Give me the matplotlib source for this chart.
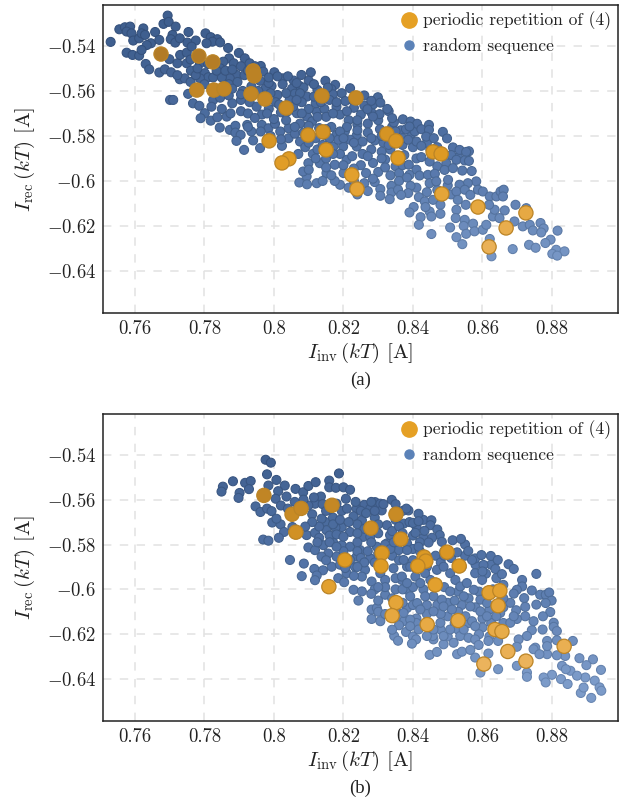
import numpy as np
import matplotlib
matplotlib.use('Agg')
import matplotlib.pyplot as plt
from matplotlib.colors import LinearSegmentedColormap
from matplotlib.lines import Line2D

plt.rcParams['mathtext.fontset'] = 'cm'
plt.rcParams['font.family'] = ['cmr10', 'DejaVu Serif']
plt.rcParams['axes.formatter.use_mathtext'] = True

x_ticks = [0.76, 0.78, 0.8, 0.82, 0.84, 0.86, 0.88]
x_tick_labels = ['0.76', '0.78', '0.8', '0.82', '0.84', '0.86', '0.88']
y_ticks = [-0.54, -0.56, -0.58, -0.6, -0.62, -0.64]
y_tick_labels = ['$-0.54$', '$-0.56$', '$-0.58$', '$-0.6$', '$-0.62$', '$-0.64$']

# panel (a), periodic repetition
a_periodic = np.array([
    (.7675, -.5436), (.7784, -.5445), (.7824, -.5471), (.7940, -.5511), (.7943, -.5533), (.7778, -.5596),
    (.7827, -.5596), (.7856, -.5591), (.7934, -.5613), (.7974, -.5636), (.8035, -.5676), (.8138, -.5622),
    (.8236, -.5631), (.8098, -.5796), (.8141, -.5782), (.8150, -.5862), (.7986, -.5822), (.8043, -.5902),
    (.8023, -.5920), (.8224, -.5973), (.8239, -.6036), (.8325, -.5791), (.8351, -.5822), (.8357, -.5898),
    (.8458, -.5871), (.8481, -.5880), (.8483, -.6058), (.8587, -.6116), (.8725, -.6142), (.8668, -.6209),
    (.8619, -.6293),
])

# panel (a), random sequence: upper left part
a_random_left = np.array([
    (.7530, -.5382), (.7555, -.5326), (.7571, -.5317), (.7586, -.5314), (.7576, -.5336), (.7590, -.5344),
    (.7595, -.5376), (.7612, -.5366), (.7624, -.5322), (.7619, -.5344), (.7629, -.5351), (.7658, -.5338),
    (.7646, -.5388), (.7634, -.5396), (.7670, -.5373), (.7576, -.5430), (.7593, -.5440), (.7612, -.5443),
    (.7619, -.5418), (.7694, -.5265), (.7682, -.5302), (.7697, -.5293), (.7717, -.5314), (.7708, -.5351),
    (.7703, -.5370), (.7716, -.5385), (.7729, -.5366), (.7754, -.5338), (.7751, -.5385), (.7775, -.5376),
    (.7803, -.5344), (.7818, -.5361), (.7837, -.5370), (.7823, -.5381), (.7845, -.5384), (.7806, -.5388),
    (.7868, -.5409), (.7899, -.5431), (.7871, -.5455), (.7884, -.5477), (.7916, -.5455), (.7930, -.5477),
    (.7962, -.5489), (.8001, -.5517), (.7969, -.5514), (.8079, -.5529), (.8106, -.5517), (.8100, -.5554),
    (.8148, -.5555), (.8176, -.5573), (.8219, -.5588), (.8057, -.5554), (.8074, -.5578), (.8025, -.5544),
    (.7993, -.5578), (.7631, -.5480), (.7641, -.5504), (.7670, -.5518), (.7686, -.5504), (.7704, -.5517),
    (.7699, -.5459), (.7722, -.5477), (.7730, -.5440), (.7749, -.5430), (.7763, -.5403), (.7749, -.5477),
    (.7761, -.5510), (.7787, -.5477), (.7801, -.5521), (.7811, -.5539), (.7787, -.5544), (.7854, -.5470),
    (.7845, -.5499), (.7892, -.5529), (.7873, -.5544), (.7701, -.5640), (.7710, -.5640), (.7753, -.5613),
    (.7767, -.5655), (.7785, -.5666), (.7825, -.5640), (.7801, -.5699), (.7789, -.5721), (.7818, -.5732),
    (.7837, -.5717), (.7864, -.5714), (.7844, -.5763), (.7873, -.5773), (.7889, -.5755), (.7923, -.5751),
    (.7889, -.5785), (.7904, -.5795), (.7892, -.5822), (.7914, -.5862), (.7940, -.5820), (.7960, -.5854),
    (.7729, -.5548), (.7743, -.5544), (.7722, -.5530), (.7760, -.5560), (.7775, -.5530), (.7800, -.5570),
    (.7825, -.5540), (.7850, -.5540), (.7870, -.5570), (.7895, -.5560), (.7915, -.5530), (.7935, -.5580),
    (.7960, -.5555), (.7975, -.5590), (.7845, -.5630), (.7870, -.5620), (.7905, -.5640), (.7880, -.5655),
    (.7910, -.5600), (.7930, -.5650), (.7950, -.5670), (.7965, -.5620), (.7905, -.5690), (.7925, -.5700),
])

# panel (a), random sequence: middle body
a_random_mid = np.array([
    (.7965, -.5751), (.7984, -.5766), (.7962, -.5780), (.8003, -.5746), (.8018, -.5780), (.8042, -.5766),
    (.8042, -.5810), (.8023, -.5844), (.8066, -.5699), (.8095, -.5714), (.8075, -.5825), (.8112, -.5880),
    (.8123, -.5692), (.8180, -.5795), (.8204, -.5780), (.8238, -.5798), (.8099, -.5921), (.8073, -.6007),
    (.8094, -.5980), (.8123, -.6010), (.8084, -.5958), (.8132, -.5921), (.8151, -.5965), (.8175, -.5928),
    (.8190, -.6017), (.8209, -.5906), (.8238, -.5847), (.8199, -.5847), (.8171, -.5847), (.8185, -.5817),
    (.8219, -.5817), (.7985, -.5565), (.8025, -.5570), (.8052, -.5590), (.8085, -.5585), (.8125, -.5595),
    (.8165, -.5592), (.8010, -.5618), (.8060, -.5612), (.8095, -.5625), (.8170, -.5615), (.8195, -.5610),
    (.8225, -.5640), (.8005, -.5650), (.8045, -.5640), (.8080, -.5650), (.8120, -.5655), (.8160, -.5640),
    (.8205, -.5645), (.8260, -.5620), (.7985, -.5680), (.8020, -.5695), (.8055, -.5670), (.8100, -.5680),
    (.8145, -.5680), (.8180, -.5670), (.8230, -.5675), (.8260, -.5665), (.7965, -.5705), (.8000, -.5725),
    (.8035, -.5730), (.8075, -.5745), (.8110, -.5735), (.8150, -.5715), (.8190, -.5705), (.8215, -.5730),
    (.8250, -.5705), (.8280, -.5695), (.8130, -.5765), (.8165, -.5760), (.8240, -.5750), (.8270, -.5745),
    (.8300, -.5730), (.8100, -.5755), (.8060, -.5790), (.8120, -.5810), (.8210, -.5760), (.8270, -.5785),
    (.8305, -.5770), (.8255, -.5825), (.8290, -.5820), (.8315, -.5830), (.8340, -.5760), (.8365, -.5775),
    (.8280, -.5860), (.8310, -.5870), (.8335, -.5860), (.8370, -.5840), (.8255, -.5880), (.8225, -.5890),
    (.8190, -.5880), (.8250, -.5930), (.8285, -.5920), (.8320, -.5905), (.8350, -.5935), (.8375, -.5885),
    (.8230, -.5945), (.8265, -.5965), (.8300, -.5960), (.8335, -.5975), (.8360, -.5965), (.8200, -.5965),
    (.8260, -.6010), (.8290, -.6005), (.8215, -.6030), (.8175, -.6000), (.8240, -.6060), (.8270, -.6045),
    (.8125, -.5860), (.8150, -.5900), (.8190, -.5780), (.8150, -.5770), (.8090, -.5850), (.8070, -.5880),
    (.8140, -.5620), (.8210, -.5690), (.8330, -.5690), (.8345, -.5740), (.8395, -.5790), (.8370, -.5810),
])

# panel (a), random sequence: second pass over the dense band
a_random_dense = np.array([
    (.7760, -.5460), (.7780, -.5500), (.7810, -.5480), (.7835, -.5510), (.7860, -.5510), (.7880, -.5505),
    (.7905, -.5490), (.7925, -.5510), (.7945, -.5490), (.7985, -.5540), (.8010, -.5535), (.8040, -.5535),
    (.8065, -.5565), (.8115, -.5570), (.8155, -.5585), (.7850, -.5600), (.7880, -.5590), (.7905, -.5615),
    (.7955, -.5600), (.7990, -.5610), (.8035, -.5610), (.8075, -.5610), (.8115, -.5625), (.8135, -.5650),
    (.8180, -.5650), (.7820, -.5670), (.7850, -.5680), (.7875, -.5700), (.7945, -.5720), (.7980, -.5700),
    (.8015, -.5660), (.8065, -.5640), (.8040, -.5690), (.8080, -.5700), (.8125, -.5715), (.8170, -.5700),
    (.8240, -.5630), (.8285, -.5660), (.8240, -.5730), (.7935, -.5780), (.7925, -.5760), (.7990, -.5800),
    (.8020, -.5815), (.8060, -.5760), (.8085, -.5785), (.8145, -.5795), (.8200, -.5810), (.8160, -.5810),
    (.8240, -.5775), (.8280, -.5810), (.8310, -.5800), (.8350, -.5780), (.8380, -.5770), (.8405, -.5780),
    (.8400, -.5850), (.8350, -.5890), (.8330, -.5840), (.8310, -.5900), (.8270, -.5890), (.8230, -.5830),
    (.8100, -.5830), (.8140, -.5840), (.8170, -.5880), (.8120, -.5900), (.8150, -.5940), (.8200, -.5930),
    (.8100, -.5950), (.8140, -.6000), (.8165, -.5975), (.8095, -.6015), (.8230, -.6000), (.8285, -.5990),
    (.8320, -.5940), (.8370, -.5930), (.8410, -.5900), (.8450, -.5860), (.8470, -.5850), (.8440, -.5830),
    (.8480, -.5880), (.8530, -.5895), (.8470, -.5935), (.8410, -.5950), (.8360, -.6000), (.8410, -.6030),
    (.8440, -.6050), (.8470, -.6040), (.8500, -.6020), (.8510, -.6060),
])

# panel (a), random sequence: right part
a_random_right = np.array([
    (.8299, -.5628), (.8280, -.5644), (.8306, -.5652), (.8269, -.5681), (.8326, -.5680), (.8304, -.5703),
    (.8285, -.5714), (.8340, -.5721), (.8371, -.5726), (.8393, -.5736), (.8412, -.5746), (.8446, -.5751),
    (.8424, -.5770), (.8390, -.5758), (.8446, -.5773), (.8486, -.5782), (.8438, -.5803), (.8460, -.5810),
    (.8498, -.5811), (.8410, -.5825), (.8386, -.5817), (.8424, -.5844), (.8515, -.5851), (.8534, -.5862),
    (.8561, -.5868), (.8553, -.5871), (.8510, -.5885), (.8525, -.5906), (.8549, -.5909), (.8561, -.5911),
    (.8496, -.5921), (.8448, -.5914), (.8424, -.5894), (.8388, -.5928), (.8390, -.5973), (.8383, -.5985),
    (.8419, -.5976), (.8443, -.5973), (.8463, -.5968), (.8491, -.5951), (.8515, -.5943), (.8542, -.5954),
    (.8569, -.5956), (.8501, -.5995), (.8448, -.6010), (.8467, -.6002), (.8393, -.6022), (.8338, -.6022),
    (.8306, -.6036), (.8338, -.6051), (.8357, -.6039), (.8386, -.6054), (.8366, -.6062), (.8333, -.6081),
    (.8306, -.6066), (.8417, -.6072), (.8434, -.6091), (.8458, -.6084), (.8479, -.6106), (.8448, -.6136),
    (.8436, -.6116), (.8402, -.6116), (.8390, -.6140), (.8422, -.6161), (.8453, -.6158), (.8479, -.6146),
    (.8417, -.6195), (.8453, -.6236), (.8525, -.6128), (.8523, -.6165), (.8549, -.6173), (.8507, -.6207),
    (.8546, -.6200), (.8525, -.6250), (.8553, -.6235), (.8542, -.6281), (.8573, -.6190), (.8577, -.6224),
    (.8601, -.6217), (.8611, -.6195), (.8630, -.6158), (.8635, -.6128), (.8664, -.6131), (.8649, -.6165),
    (.8695, -.6106), (.8726, -.6121), (.8692, -.6180), (.8716, -.6202), (.8736, -.6195), (.8745, -.6220),
    (.8767, -.6187), (.8776, -.6211), (.8769, -.6229), (.8816, -.6221), (.8796, -.6261), (.8781, -.6276),
    (.8734, -.6284), (.8753, -.6297), (.8687, -.6303), (.8626, -.6335), (.8621, -.6258), (.8812, -.6306),
    (.8836, -.6313), (.8801, -.6324), (.8815, -.6332), (.8582, -.6002), (.8558, -.6010), (.8534, -.6017),
    (.8525, -.6047), (.8549, -.6039), (.8529, -.6084), (.8552, -.6106), (.8565, -.6062), (.8587, -.6039),
    (.8601, -.6047), (.8621, -.6069), (.8619, -.6106), (.8640, -.6069), (.8652, -.6047), (.8661, -.6039),
    (.8659, -.6069),
])

# panel (b), periodic repetition
b_periodic = np.array([
    (.7971, -.5581), (.8052, -.5665), (.8078, -.5639), (.8063, -.5745), (.8167, -.5625), (.8351, -.5665),
    (.8279, -.5727), (.8365, -.5776), (.8311, -.5838), (.8308, -.5896), (.8204, -.5869), (.8158, -.5988),
    (.8351, -.6059), (.8340, -.6117), (.8498, -.5834), (.8432, -.5856), (.8437, -.5874), (.8414, -.5896),
    (.8533, -.5896), (.8464, -.5980), (.8619, -.6015), (.8650, -.6006), (.8645, -.6073), (.8530, -.6139),
    (.8441, -.6157), (.8636, -.6179), (.8656, -.6188), (.8673, -.6277), (.8835, -.6254), (.8725, -.6320),
    (.8604, -.6333),
])

# panel (b), random sequence: left part
b_random_left = np.array([
    (.7976, -.5422), (.7991, -.5435), (.7980, -.5487), (.8187, -.5483), (.7853, -.5542), (.7849, -.5564),
    (.7882, -.5518), (.7917, -.5525), (.7933, -.5517), (.7928, -.5553), (.7901, -.5570), (.7898, -.5592),
    (.7947, -.5630), (.7961, -.5655), (.7980, -.5640), (.7993, -.5651), (.7984, -.5537), (.8007, -.5512),
    (.8031, -.5537), (.8012, -.5562), (.8005, -.5596), (.8020, -.5626), (.8036, -.5586), (.8062, -.5552),
    (.8084, -.5567), (.8099, -.5539), (.8120, -.5522), (.8159, -.5515), (.8159, -.5545), (.8178, -.5547),
    (.8200, -.5545), (.8219, -.5556), (.8207, -.5596), (.8135, -.5586), (.8118, -.5618), (.8099, -.5626),
    (.7995, -.5702), (.8019, -.5710), (.8007, -.5685), (.8029, -.5744), (.8014, -.5770), (.7969, -.5778),
    (.7984, -.5783), (.8053, -.5722), (.8046, -.5869), (.8086, -.5885), (.8080, -.5941), (.8116, -.5909),
    (.8141, -.5915), (.8123, -.5938), (.8118, -.5959), (.8099, -.5813), (.8118, -.5825), (.8094, -.5758),
    (.8118, -.5748), (.8147, -.5699), (.8137, -.5685), (.8151, -.5736), (.8142, -.5803), (.8156, -.5840),
    (.8166, -.5899), (.8185, -.5950), (.8202, -.5968), (.8229, -.6002), (.8243, -.6050), (.8253, -.6009),
    (.8281, -.6090), (.8296, -.6083), (.8281, -.6132), (.8306, -.6142), (.8346, -.6208), (.8357, -.6229),
    (.8339, -.5601), (.8291, -.5611), (.8306, -.5618), (.8260, -.5623), (.8238, -.5640), (.8277, -.5640),
    (.8310, -.5648), (.8229, -.5674), (.8253, -.5692), (.8195, -.5650), (.8195, -.5722), (.8177, -.5725),
    (.8219, -.5744), (.8195, -.5803), (.8248, -.5825), (.8257, -.5766), (.8219, -.5810), (.8238, -.5854),
    (.8262, -.5913), (.8281, -.5965), (.8306, -.5928), (.8344, -.5906), (.8383, -.5899), (.8359, -.5825),
    (.8325, -.5795), (.8383, -.5795), (.8387, -.5648), (.8373, -.5707), (.8325, -.5714), (.8277, -.5862),
    (.8320, -.5958), (.8368, -.5958), (.8320, -.6024), (.8383, -.6002), (.8373, -.6142), (.8383, -.6083),
    (.8277, -.5766), (.8296, -.5810), (.8334, -.5758), (.8233, -.5899), (.8253, -.5943), (.8209, -.5928),
    (.8180, -.5854), (.8137, -.5854), (.8219, -.5869), (.8161, -.5643), (.8180, -.5618), (.8085, -.5600),
    (.8110, -.5665), (.8170, -.5680), (.8130, -.5770), (.8170, -.5790), (.8240, -.5710), (.8290, -.5680),
    (.8350, -.5690), (.8300, -.5750), (.8240, -.5790), (.8270, -.5830), (.8340, -.5850), (.8290, -.5880),
    (.8190, -.5890), (.8230, -.5940), (.8290, -.6000), (.8350, -.6000), (.8300, -.6050), (.8350, -.6090),
])

# panel (b), random sequence: second pass over the dense band
b_random_dense = np.array([
    (.8040, -.5640), (.8060, -.5610), (.8080, -.5640), (.8115, -.5590), (.8140, -.5620), (.8150, -.5650),
    (.8130, -.5720), (.8110, -.5700), (.8090, -.5720), (.8170, -.5710), (.8160, -.5760), (.8180, -.5755),
    (.8200, -.5765), (.8190, -.5690), (.8215, -.5700), (.8210, -.5640), (.8235, -.5610), (.8250, -.5650),
    (.8280, -.5610), (.8265, -.5660), (.8290, -.5650), (.8315, -.5620), (.8350, -.5620), (.8370, -.5650),
    (.8340, -.5740), (.8360, -.5720), (.8390, -.5700), (.8410, -.5720), (.8430, -.5690), (.8300, -.5710),
    (.8260, -.5730), (.8240, -.5750), (.8280, -.5790), (.8240, -.5830), (.8200, -.5830), (.8160, -.5790),
    (.8125, -.5790), (.8150, -.5870), (.8180, -.5810), (.8205, -.5905), (.8250, -.5860), (.8260, -.5880),
    (.8240, -.5900), (.8300, -.5840), (.8320, -.5800), (.8335, -.5820), (.8345, -.5790), (.8370, -.5750),
    (.8400, -.5760), (.8430, -.5770), (.8420, -.5790), (.8400, -.5820), (.8420, -.5830), (.8360, -.5870),
    (.8400, -.5870), (.8410, -.5910), (.8440, -.5900), (.8465, -.5850), (.8490, -.5830), (.8510, -.5860),
    (.8480, -.5880), (.8550, -.5850), (.8550, -.5800), (.8580, -.5890), (.8625, -.5890), (.8610, -.5930),
    (.8640, -.5950), (.8660, -.5980), (.8590, -.6010), (.8560, -.6040), (.8610, -.6030), (.8580, -.6080),
    (.8620, -.6090), (.8530, -.6010), (.8490, -.5990), (.8460, -.5980), (.8430, -.6000), (.8400, -.5990),
    (.8370, -.6000), (.8350, -.5950), (.8320, -.5990), (.8280, -.6020), (.8340, -.6040), (.8370, -.6060),
    (.8400, -.6070), (.8440, -.6070), (.8470, -.6070), (.8500, -.6060), (.8540, -.6070), (.8530, -.6100),
    (.8500, -.6120), (.8480, -.6110), (.8440, -.6110), (.8410, -.6130), (.8350, -.6130), (.8360, -.6160),
    (.8380, -.6190), (.8410, -.6150), (.8440, -.6150), (.8520, -.6150), (.8560, -.6150), (.8600, -.6130),
    (.8600, -.6170), (.8620, -.6210), (.8590, -.6200), (.8530, -.6180), (.8480, -.6180), (.8500, -.6210),
    (.8300, -.6100), (.8320, -.6110), (.8300, -.5990), (.8340, -.6180), (.8400, -.6210), (.8660, -.6080),
    (.8680, -.6060), (.8660, -.6150), (.8625, -.6150), (.8640, -.6190),
])

# panel (b), random sequence: right part
b_random_right = np.array([
    (.8381, -.5640), (.8416, -.5663), (.8400, -.5704), (.8416, -.5696), (.8453, -.5692), (.8450, -.5714),
    (.8433, -.5739), (.8470, -.5733), (.8407, -.5748), (.8477, -.5758), (.8455, -.5770), (.8445, -.5791),
    (.8483, -.5788), (.8514, -.5781), (.8538, -.5775), (.8416, -.5810), (.8383, -.5825), (.8559, -.5829),
    (.8527, -.5835), (.8579, -.5862), (.8597, -.5847), (.8624, -.5851), (.8644, -.5869), (.8603, -.5891),
    (.8570, -.5869), (.8637, -.5909), (.8675, -.5888), (.8690, -.5909), (.8656, -.5932), (.8755, -.5931),
    (.8714, -.5958), (.8714, -.5987), (.8699, -.6002), (.8690, -.6019), (.8742, -.6005), (.8720, -.6039),
    (.8766, -.6024), (.8782, -.6024), (.8792, -.6014), (.8755, -.6068), (.8799, -.6050), (.8782, -.6061),
    (.8723, -.6078), (.8795, -.6101), (.8774, -.6120), (.8697, -.6093), (.8723, -.6120), (.8699, -.6132),
    (.8747, -.6142), (.8742, -.6182), (.8805, -.6149), (.8805, -.6167), (.8814, -.6186), (.8773, -.6179),
    (.8728, -.6208), (.8704, -.6223), (.8680, -.6149), (.8651, -.6105), (.8690, -.6120), (.8786, -.6230),
    (.8814, -.6227), (.8860, -.6230), (.8838, -.6297), (.8814, -.6294), (.8786, -.6289), (.8752, -.6260),
    (.8786, -.6253), (.8829, -.6341), (.8853, -.6363), (.8879, -.6307), (.8918, -.6312), (.8899, -.6338),
    (.8941, -.6359), (.8923, -.6407), (.8937, -.6437), (.8942, -.6452), (.8913, -.6484), (.8883, -.6462),
    (.8891, -.6438), (.8896, -.6393), (.8872, -.6385), (.8840, -.6356), (.8826, -.6400), (.8845, -.6422),
    (.8800, -.6381), (.8776, -.6393), (.8782, -.6415), (.8728, -.6371), (.8728, -.6390), (.8699, -.6341),
    (.8645, -.6356), (.8594, -.6371), (.8579, -.6304), (.8617, -.6286), (.8527, -.6289), (.8541, -.6278),
    (.8448, -.6292), (.8469, -.6279), (.8488, -.6245), (.8459, -.6223), (.8457, -.6208), (.8409, -.6223),
    (.8397, -.6242), (.8488, -.6208), (.8517, -.6238), (.8536, -.6208), (.8560, -.6216), (.8579, -.6223),
    (.8589, -.6248), (.8565, -.6270), (.8617, -.6230), (.8645, -.6230), (.8747, -.6267), (.8699, -.6256),
    (.8764, -.6289), (.8373, -.5869), (.8392, -.5899), (.8368, -.5943), (.8383, -.5972), (.8407, -.5943),
    (.8421, -.5972), (.8450, -.5958), (.8435, -.5928), (.8469, -.5913), (.8488, -.5899), (.8507, -.5928),
    (.8522, -.5958), (.8536, -.5987), (.8555, -.5972), (.8579, -.5928), (.8599, -.5958), (.8575, -.6002),
    (.8594, -.6046), (.8565, -.6076), (.8546, -.6031), (.8507, -.6009), (.8483, -.6046), (.8459, -.6031),
    (.8435, -.6031), (.8412, -.6061), (.8392, -.6031), (.8373, -.6105), (.8392, -.6135), (.8421, -.6090),
    (.8459, -.6098), (.8488, -.6076), (.8512, -.6090), (.8551, -.6120), (.8570, -.6142), (.8594, -.6098),
    (.8613, -.6120), (.8613, -.6061), (.8579, -.6164), (.8546, -.6179), (.8507, -.6179), (.8479, -.6149),
    (.8459, -.6179), (.8440, -.6208), (.8416, -.6179), (.8392, -.6164), (.8440, -.5860), (.8490, -.5850),
    (.8540, -.5900), (.8600, -.5920), (.8520, -.6050), (.8630, -.6000), (.8660, -.6040), (.8640, -.6120),
])

random_cmap = LinearSegmentedColormap.from_list('rnd', ['#3f5f8f', '#5374a8', '#7c9bc9'])
random_edge = LinearSegmentedColormap.from_list('rnd_edge', ['#34507b', '#44638f', '#6684b0'])
periodic_cmap = LinearSegmentedColormap.from_list('per', ['#ae7826', '#e09c24', '#edb765'])


def draw_panel(ax, random_pts, periodic_pts, caption):
    # colour follows the vertical position, dark at the top
    shade = np.clip((-random_pts[:, 1] - 0.54) / 0.1, 0, 1)
    ax.scatter(random_pts[:, 0], random_pts[:, 1], s=42, c=random_cmap(shade), edgecolors=random_edge(shade),
               linewidths=0.75, zorder=3)
    ax.scatter(periodic_pts[:, 0], periodic_pts[:, 1], s=105, c=-periodic_pts[:, 1], cmap=periodic_cmap,
               vmin=0.54, vmax=0.64, edgecolors='#bb8426', linewidths=0.9, zorder=4)

    ax.set_xlim(0.7508, 0.899)
    ax.set_ylim(-0.6587, -0.5218)
    ax.set_xticks(x_ticks)
    ax.set_xticklabels(x_tick_labels)
    ax.set_yticks(y_ticks)
    ax.set_yticklabels(y_tick_labels)
    ax.tick_params(length=0, labelsize=13.5, pad=5, colors='#222222')
    ax.grid(True, color='#e2e2e2', linewidth=1.1, linestyle=(0, (5.5, 5.5)), zorder=0)
    ax.set_axisbelow(True)
    for spine in ax.spines.values():
        spine.set_linewidth(1.1)
        spine.set_color('#222222')

    ax.set_xlabel(r'$I_{\mathrm{inv}}\,(kT)$ [A]', fontsize=15, labelpad=2, color='#222222')
    ax.set_ylabel(r'$I_{\mathrm{rec}}\,(kT)$ [A]', fontsize=15, labelpad=7, color='#222222')

    handles = [
        Line2D([], [], linestyle='none', marker='o', markersize=11, color='#e5a024', label='periodic repetition of (4)'),
        Line2D([], [], linestyle='none', marker='o', markersize=6.5, color='#5b82b8', label='random sequence'),
    ]
    ax.legend(handles=handles, loc='upper left', bbox_to_anchor=(0.55, 1.012), frameon=False, fontsize=12.6,
              handlelength=1.4, handletextpad=0.12, labelspacing=0.42, borderaxespad=0.2, labelcolor='#222222')
    ax.text(0.5, -0.22, caption, transform=ax.transAxes, ha='center', va='center', fontsize=13.5,
            family='Liberation Serif', color='#222222')


fig = plt.figure(figsize=(6.36, 8.06), dpi=100)
ax_a = fig.add_axes([103 / 636, 1 - 313 / 806, 515 / 636, 308 / 806])
ax_b = fig.add_axes([103 / 636, 1 - 721 / 806, 515 / 636, 307 / 806])

draw_panel(ax_a, np.vstack([a_random_left, a_random_mid, a_random_dense, a_random_right]), a_periodic, '(a)')
draw_panel(ax_b, np.vstack([b_random_left, b_random_dense, b_random_right]), b_periodic, '(b)')

fig.savefig('out.png', dpi=100)
